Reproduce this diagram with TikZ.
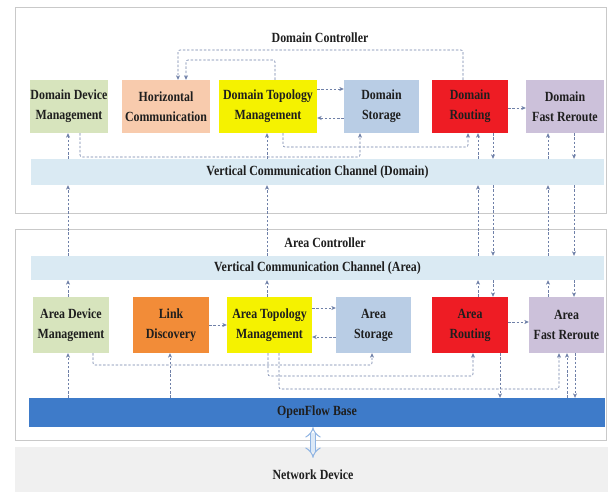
\documentclass[tikz,border=0pt]{standalone}
\usepackage{fontspec}
\setmainfont{Liberation Serif}[FakeStretch=0.85]
\usetikzlibrary{arrows.meta}

\definecolor{devgreen}{HTML}{D7E4BD}
\definecolor{peach}{HTML}{F8CBAD}
\definecolor{topoyellow}{HTML}{F5F200}
\definecolor{storeblue}{HTML}{B9CDE5}
\definecolor{routered}{HTML}{EE1C24}
\definecolor{lavender}{HTML}{CCC1DA}
\definecolor{linkorange}{HTML}{F28C38}
\definecolor{vccblue}{HTML}{DAEAF3}
\definecolor{ofblue}{HTML}{3E7BC9}
\definecolor{devgray}{HTML}{F0F0F0}
\definecolor{framegray}{HTML}{C9C9C9}
\definecolor{linkgray}{HTML}{6F80A8}
\definecolor{inkdark}{HTML}{1E1E1E}
\definecolor{pipeblue}{HTML}{8FB4E3}
\definecolor{pipefill}{HTML}{DCE9F7}

\tikzset{
  every node/.style={font=\fontsize{14}{20}\selectfont\bfseries, text=inkdark},
  module/.style={inner sep=0pt, align=center, minimum height=53pt},
  amodule/.style={module, minimum height=56pt},
  band/.style={inner sep=0pt, minimum width=573pt, fill=vccblue},
  frame/.style={draw=framegray, line width=0.8pt, fill=white},
  conn/.style={draw=linkgray, line width=0.6pt, dash pattern=on 2.4pt off 1.8pt,
    rounded corners=2pt, -{Stealth[length=4.5pt,width=4pt]}},
}

\begin{document}
\begin{tikzpicture}[x=1pt, y=-1pt]
\useasboundingbox (0,0) rectangle (608,492);

% controller frames and device band
\path[frame] (15,7) rectangle (606,213);
\path[frame] (15,229) rectangle (606,440);
\fill[devgray] (15,447) rectangle (608,492);

\node (dctl) at (320,38) {Domain Controller};
\node (actl) at (325,243) {Area Controller};

% domain controller modules
\node[module, fill=devgreen,   minimum width=78pt] (ddm) at (69,106.5)   {Domain Device\\Management};
\node[module, fill=peach,      minimum width=88pt] (hc)  at (166,106.5)  {Horizontal\\Communication};
\node[module, fill=topoyellow, minimum width=98pt] (dtm) at (268,106.5)  {Domain Topology\\Management};
\node[module, fill=storeblue,  minimum width=75pt] (ds)  at (381.5,106.5){Domain\\Storage};
\node[module, fill=routered,   minimum width=76pt] (dr)  at (470,106.5)  {Domain\\Routing};
\node[module, fill=lavender,   minimum width=78pt] (dfr) at (565,106.5)  {Domain\\Fast Reroute};

\node[band, minimum height=26pt] (dvcc) at (317.5,172) {Vertical Communication Channel (Domain)};
\node[band, minimum height=24pt] (avcc) at (317.5,268) {Vertical Communication Channel (Area)};

% area controller modules
\node[amodule, fill=devgreen,   minimum width=76pt] (adm) at (71,325)    {Area Device\\Management};
\node[amodule, fill=linkorange, minimum width=76pt] (ld)  at (171,325)   {Link\\Discovery};
\node[amodule, fill=topoyellow, minimum width=85pt] (atm) at (269.5,325) {Area Topology\\Management};
\node[amodule, fill=storeblue,  minimum width=75pt] (as)  at (373.5,325) {Area\\Storage};
\node[amodule, fill=routered,   minimum width=76pt] (ar)  at (470,325)   {Area\\Routing};
\node[amodule, fill=lavender,   minimum width=75pt] (afr) at (566.5,325) {Area\\Fast Reroute};

\node[inner sep=0pt, fill=ofblue, minimum width=576pt, minimum height=29pt] (ofb) at (317,412.5) {OpenFlow Base};
\node[inner sep=0pt, minimum height=34pt] (netdev) at (313,475) {Network Device};

% OpenFlow link to the devices
\draw[draw=pipeblue, line width=1pt, double=pipefill, double distance=4.5pt,
      {Implies}-{Implies}] (313,0 |- ofb.south) -- (netdev.north);

% --- domain controller links
\draw[conn] (463,0 |- dr.north) -- (463,50) -| (178,0 |- hc.north);
\draw[conn] (275,0 |- dtm.north) -- (275,60) -| (186,0 |- hc.north);
\draw[conn] (dtm.east |- 0,89) -- (ds.west |- 0,89);
\draw[conn] (ds.west |- 0,118) -- (dtm.east |- 0,118);
\draw[conn] (dr.east |- 0,108) -- (dfr.west |- 0,108);
\draw[conn] (80,0 |- ddm.south) -- (80,157) -| (360,0 |- ds.south);
\draw[conn] (283,0 |- dtm.south) -- (283,147) -| (468,0 |- dr.south);
\draw[conn] (68,0 |- dvcc.north) -- (68,0 |- ddm.south);
\draw[conn] (267,0 |- dvcc.north) -- (267,0 |- dtm.south);
\draw[conn] (478,0 |- dvcc.north) -- (478,0 |- dr.south);
\draw[conn] (493,0 |- dr.south) -- (493,0 |- dvcc.north);
\draw[conn] (548,0 |- dvcc.north) -- (548,0 |- dfr.south);
\draw[conn] (574,0 |- dfr.south) -- (574,0 |- dvcc.north);

% --- between the two channels
\draw[conn] (68,0 |- avcc.north) -- (68,0 |- dvcc.south);
\draw[conn] (267,0 |- avcc.north) -- (267,0 |- dvcc.south);
\draw[conn] (478,0 |- avcc.north) -- (478,0 |- dvcc.south);
\draw[conn] (493,0 |- dvcc.south) -- (493,0 |- avcc.north);
\draw[conn] (548,0 |- avcc.north) -- (548,0 |- dvcc.south);
\draw[conn] (574,0 |- dvcc.south) -- (574,0 |- avcc.north);

% --- area controller links
\draw[conn] (68,0 |- adm.north) -- (68,0 |- avcc.south);
\draw[conn] (267,0 |- atm.north) -- (267,0 |- avcc.south);
\draw[conn] (478,0 |- ar.north) -- (478,0 |- avcc.south);
\draw[conn] (493,0 |- avcc.south) -- (493,0 |- ar.north);
\draw[conn] (548,0 |- afr.north) -- (548,0 |- avcc.south);
\draw[conn] (574,0 |- avcc.south) -- (574,0 |- afr.north);

\draw[conn] (ld.east |- 0,325) -- (atm.west |- 0,325);
\draw[conn] (atm.east |- 0,308) -- (as.west |- 0,308);
\draw[conn] (as.west |- 0,337) -- (atm.east |- 0,337);
\draw[conn] (ar.east |- 0,322) -- (afr.west |- 0,322);

\draw[conn] (68,0 |- ofb.north) -- (68,0 |- adm.south);
\draw[conn] (170,0 |- ofb.north) -- (170,0 |- ld.south);
\draw[conn] (93,0 |- adm.south) -- (93,365) -| (372,0 |- as.south);
\draw[conn] (268,0 |- atm.south) -- (268,376) -| (473,0 |- ar.south);
\draw[conn] (279,0 |- atm.south) -- (279,389) -| (559,0 |- afr.south);
\draw[conn] (500,0 |- ar.south) -- (500,0 |- ofb.north);
\draw[conn] (567,0 |- ofb.north) -- (567,0 |- afr.south);
\draw[conn] (575,0 |- afr.south) -- (575,0 |- ofb.north);
\end{tikzpicture}
\end{document}
